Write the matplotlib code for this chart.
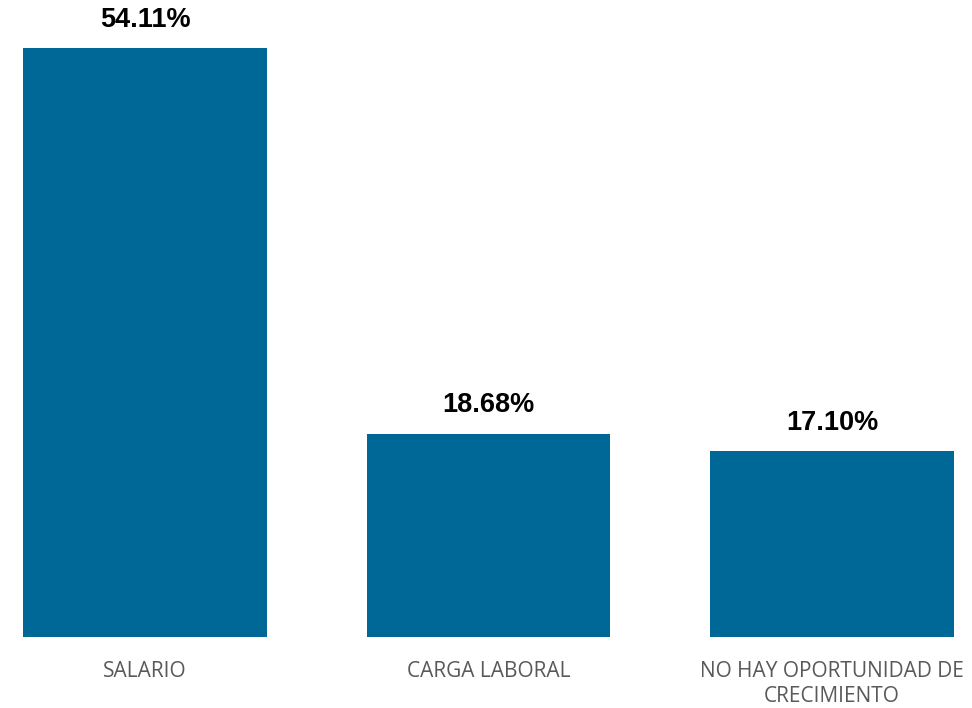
import matplotlib.pyplot as plt

categories = ['SALARIO', 'CARGA LABORAL', 'NO HAY OPORTUNIDAD DE\nCRECIMIENTO']
values = [54.11, 18.68, 17.10]
labels = ['54.11%', '18.68%', '17.10%']

fig = plt.figure(figsize=(9.72, 7.08), dpi=100)
ax = fig.add_axes([0, 71 / 708, 1, 637 / 708])

x = range(len(categories))
ax.bar(x, values, width=0.71, color='#006897')

for xi, v, lab in zip(x, values, labels):
    ax.annotate(lab, (xi, v), xytext=(0, 11), textcoords='offset points',
                ha='center', va='bottom', fontsize=19.5, fontweight='bold',
                family='Liberation Sans', color='black')

ax.set_xlim(-145 / 343.5, (972 - 145) / 343.5)
ax.set_ylim(0, 637 / 10.886)
ax.set_xticks(list(x))
ax.set_xticklabels(categories, fontsize=15, color='#595959', family='Open Sans',
                   linespacing=1.3)
ax.tick_params(axis='x', length=0, pad=17)
ax.set_yticks([])
for s in ax.spines.values():
    s.set_visible(False)

fig.savefig('out.png', dpi=100)
